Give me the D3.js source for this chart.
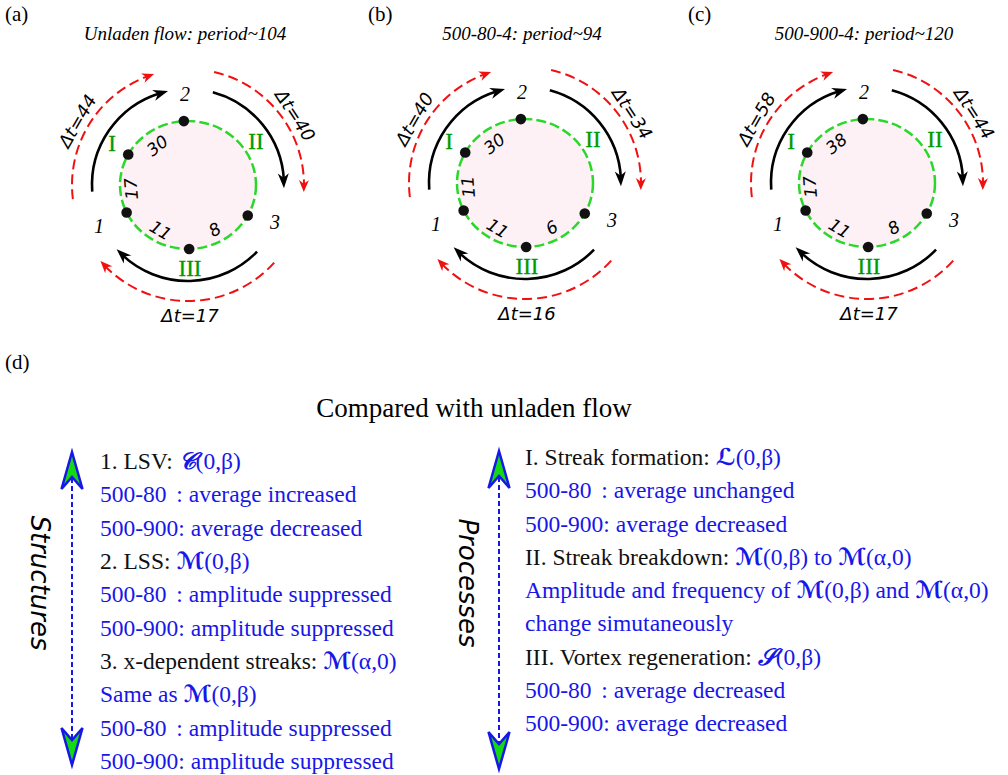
<!DOCTYPE html>
<html><head><meta charset="utf-8">
<script src="https://cdn.jsdelivr.net/npm/d3@7"></script>
<style>html,body{margin:0;padding:0;background:#fff;} svg{display:block;}</style>
</head><body>
<svg id="c" width="1008" height="775"></svg>
<script>
// ---------------- data ----------------
const panelLabels = ["(a)", "(b)", "(c)"];
const panelTitles = ["Unladen flow: period~104", "500-80-4: period~94", "500-900-4: period~120"];
const dtPhaseI = [44, 40, 58];
const dtPhaseII = [40, 34, 44];
const dtPhaseIII = [17, 16, 17];
const segUpper = [30, 30, 38];
const segLeft = [17, 11, 17];
const segLowerLeft = [11, 11, 11];
const segLowerRight = [8, 6, 8];
const phaseNames = ["I", "II", "III"];
const stateNames = ["1", "2", "3"];
const sectionLabel = "(d)";
const sectionTitle = "Compared with unladen flow";
const structuresLabel = "Structures";
const processesLabel = "Processes";
const structureLines = [
  [["1. LSV: ", "k"], ["𝒞", "m"], ["(0,β)", "b"]],
  [["500-80", "b"], [": average increased", "tab"]],
  [["500-900: average decreased", "b"]],
  [["2. LSS: ", "k"], ["ℳ", "m"], ["(0,β)", "b"]],
  [["500-80", "b"], [": amplitude suppressed", "tab"]],
  [["500-900: amplitude suppressed", "b"]],
  [["3. x-dependent streaks: ", "k"], ["ℳ", "m"], ["(α,0)", "b"]],
  [["Same as ", "b"], ["ℳ", "m"], ["(0,β)", "b"]],
  [["500-80", "b"], [": amplitude suppressed", "tab"]],
  [["500-900: amplitude suppressed", "b"]]
];
const processLines = [
  [["I. Streak formation: ", "k"], ["ℒ", "m"], ["(0,β)", "b"]],
  [["500-80", "b"], [": average unchanged", "tab"]],
  [["500-900: average decreased", "b"]],
  [["II. Streak breakdown: ", "k"], ["ℳ", "m"], ["(0,β)", "b"], [" to ", "b"], ["ℳ", "m"], ["(α,0)", "b"]],
  [["Amplitude and frequency of ", "b"], ["ℳ", "m"], ["(0,β) and ", "b"], ["ℳ", "m"], ["(α,0)", "b"]],
  [["change simutaneously", "b"]],
  [["III. Vortex regeneration: ", "k"], ["𝒮", "m"], ["(0,β)", "b"]],
  [["500-80", "b"], [": average decreased", "tab"]],
  [["500-900: average decreased", "b"]]
];

// ---------------- layout / style ----------------
const serif = "'Liberation Serif','Times New Roman',serif";
const sans = "'DejaVu Sans',sans-serif";
const BLUE = "#1717e8", GREEN_LINE = "#2ad82a", GREEN_TXT = "#009a00", RED = "#f01010", PINK = "#fdf1f5";
const svg = d3.select("#c");

const cxScale = d3.scaleOrdinal().domain([0, 1, 2]).range([188, 525, 867]);
const cyScale = d3.scaleOrdinal().domain([0, 1, 2]).range([185, 183, 183]);
const labelXScale = d3.scaleOrdinal().domain([0, 1, 2]).range([5, 368, 688]);
const RX = 68, RY = 64, R_BLACK = 96, R_RED = 116;
const dotAngles = [-93.5, -151.5, 154.5, 89, 28.5];
const numAngles = [-128, 176, 121, 59], numR = [50, 57, 53, 52];

const rad = d => d * Math.PI / 180;
const pol = (cx, cy, r, deg) => [cx + r * Math.cos(rad(deg)), cy + r * Math.sin(rad(deg))];

function arcLine(g, cx, cy, r, a0, a1, color, width, dash, len, halfW) {
  const endCut = a1 - (len * 0.55) / r * 180 / Math.PI;
  const p = d3.path();
  p.arc(cx, cy, r, rad(a0), rad(endCut), false);
  g.append("path").attr("d", p.toString()).attr("fill", "none")
    .attr("stroke", color).attr("stroke-width", width)
    .attr("stroke-dasharray", dash || null);
  const tip = pol(cx, cy, r, a1);
  const back = pol(cx, cy, r, a1 - len / r * 180 / Math.PI);
  const ang = Math.atan2(tip[1] - back[1], tip[0] - back[0]) * 180 / Math.PI;
  g.append("path")
    .attr("d", `M0,0L${-len},${-halfW}L${-len * 0.7},0L${-len},${halfW}Z`)
    .attr("transform", `translate(${tip[0]},${tip[1]})rotate(${ang})`)
    .attr("fill", color);
}

svg.selectAll("g.panel").data(d3.range(3)).join("g").attr("class", "panel").each(function (i) {
  const g = d3.select(this);
  const cx = cxScale(i), cy = cyScale(i);
  g.append("text").attr("x", labelXScale(i)).attr("y", 21).attr("font-family", serif)
    .attr("font-size", 21).text(panelLabels[i]);
  g.append("text").attr("x", cx - 3).attr("y", 40).attr("text-anchor", "middle")
    .attr("font-family", serif).attr("font-style", "italic").attr("font-size", 19)
    .text(panelTitles[i]);

  // circle
  g.append("ellipse").attr("cx", cx).attr("cy", cy).attr("rx", RX).attr("ry", RY)
    .attr("fill", PINK).attr("stroke", GREEN_LINE).attr("stroke-width", 2.5)
    .attr("stroke-dasharray", "10,4");
  g.selectAll("circle.dot").data(dotAngles).join("circle").attr("class", "dot")
    .attr("cx", a => cx + RX * Math.cos(rad(a))).attr("cy", a => cy + RY * Math.sin(rad(a)))
    .attr("r", 5.3).attr("fill", "#111");

  // segment numbers
  const nums = [segUpper[i], segLeft[i], segLowerLeft[i], segLowerRight[i]];
  nums.forEach((v, k) => {
    const a = numAngles[k];
    const [x, y] = pol(cx, cy, numR[k], a);
    const rot = a < 0 || a > 150 ? a + 90 : a - 90;
    g.append("text").attr("transform", `translate(${x},${y})rotate(${rot})`)
      .attr("text-anchor", "middle").attr("dominant-baseline", "central")
      .attr("font-family", sans).attr("font-style", "italic").attr("font-size", 17)
      .text(v);
  });

  // roman numerals
  const romanPos = [[-76, -42], [68, -44], [2, 83]];
  phaseNames.forEach((t, k) => {
    g.append("text").attr("x", cx + romanPos[k][0]).attr("y", cy + romanPos[k][1])
      .attr("text-anchor", "middle").attr("dominant-baseline", "central")
      .attr("font-family", serif).attr("font-size", 23).attr("fill", GREEN_TXT)
      .attr("stroke", GREEN_TXT).attr("stroke-width", 0.3).text(t);
  });
  // state labels
  const statePos = [[-89, 41], [-3, -91], [87, 37]];
  stateNames.forEach((t, k) => {
    g.append("text").attr("x", cx + statePos[k][0]).attr("y", cy + statePos[k][1])
      .attr("text-anchor", "middle").attr("dominant-baseline", "central")
      .attr("font-family", serif).attr("font-style", "italic").attr("font-size", 20).text(t);
  });

  // arrows
  arcLine(g, cx, cy, R_RED, 173, 253, RED, 2, "10,5", 12, 5);
  arcLine(g, cx, cy, R_RED, -77, 3.5, RED, 2, "10,5", 12, 5);
  arcLine(g, cx, cy, R_RED, 42, 139, RED, 2, "10,5", 12, 5);
  arcLine(g, cx, cy, R_BLACK, 176, 258, "#000", 2.6, null, 15, 5.5);
  arcLine(g, cx, cy, R_BLACK, -75, 2, "#000", 2.6, null, 15, 5.5);
  arcLine(g, cx, cy, R_BLACK, 44, 138, "#000", 2.6, null, 15, 5.5);

  // delta t labels
  const dtFont = t => t.attr("font-family", sans).attr("font-style", "italic").attr("font-size", 18)
    .attr("text-anchor", "middle").attr("dominant-baseline", "central");
  [[-150, dtPhaseI[i]], [-33, dtPhaseII[i]]].forEach(([a, v]) => {
    const [x, y] = pol(cx, cy, 128, a);
    g.append("text").attr("transform", `translate(${x},${y})rotate(${a + 90})`)
      .call(dtFont).text(`Δt=${v}`);
  });
  g.append("text").attr("x", cx + 2).attr("y", cy + 130).call(dtFont).text(`Δt=${dtPhaseIII[i]}`);
});

// ---------------- section (d) ----------------
svg.append("text").attr("x", 5).attr("y", 369).attr("font-family", serif).attr("font-size", 21).text(sectionLabel);
svg.append("text").attr("x", 474).attr("y", 417).attr("text-anchor", "middle")
  .attr("font-family", serif).attr("font-size", 27).text(sectionTitle);

function vArrow(x, y1, y2) {
  svg.append("line").attr("x1", x).attr("x2", x).attr("y1", y1 + 26).attr("y2", y2 - 26)
    .attr("stroke", BLUE).attr("stroke-width", 2).attr("stroke-dasharray", "5,3");
  const head = (tipY, dir) => {
    svg.append("path")
      .attr("d", `M${x},${tipY}L${x + 10.5},${tipY + dir * 37}L${x},${tipY + dir * 25}L${x - 10.5},${tipY + dir * 37}Z`)
      .attr("fill", "#13d813").attr("stroke", BLUE).attr("stroke-width", 2.5).attr("stroke-linejoin", "miter");
  };
  head(y1, 1); head(y2, -1);
}
vArrow(72, 452, 765);
vArrow(499, 451, 769);

function sideLabel(x, y, t) {
  svg.append("text").attr("transform", `translate(${x},${y})rotate(90)`).attr("text-anchor", "middle")
    .attr("font-family", sans).attr("font-style", "italic").attr("font-size", 26).text(t);
}
sideLabel(31, 583, structuresLabel);
sideLabel(459, 583, processesLabel);

const FS = 23.5;
const meas = svg.append("text").attr("font-family", serif).attr("font-size", FS).text("500-900");
const tabW = meas.node().getComputedTextLength() - 2;
meas.remove();

function listBlock(lines, x0, yScale) {
  lines.forEach((segs, li) => {
    const t = svg.append("text").attr("x", x0).attr("y", yScale(li))
      .attr("font-family", serif).attr("font-size", FS).attr("xml:space", "preserve");
    segs.forEach(([s, kind]) => {
      const ts = t.append("tspan").text(s);
      if (kind === "k") ts.attr("fill", "#111");
      else ts.attr("fill", BLUE);
      if (kind === "tab") ts.attr("x", x0 + tabW);
      if (kind === "m") ts.attr("font-family", sans).attr("font-style", "italic")
        .attr("font-weight", "bold").attr("font-size", FS);
    });
  });
}
listBlock(structureLines, 100, d3.scaleLinear().domain([0, structureLines.length - 1]).range([469, 769]));
listBlock(processLines, 525, d3.scaleLinear().domain([0, processLines.length - 1]).range([465, 731]));
</script>
</body></html>
